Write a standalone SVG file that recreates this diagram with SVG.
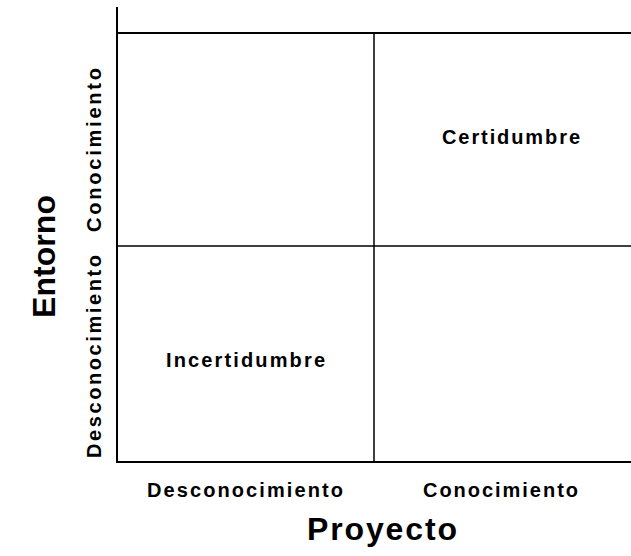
<svg xmlns="http://www.w3.org/2000/svg" width="631" height="556" viewBox="0 0 631 556">
  <style>
    .ax { stroke: #000; stroke-width: 2; fill: none; }
    .grid { stroke: #000; stroke-width: 1.5; fill: none; }
    text { font-family: "Liberation Sans", Arial, sans-serif; font-weight: bold; fill: #000; }
    .lbl { font-size: 20px; }
    .axis-title { font-size: 32px; }
  </style>
  <rect x="0" y="0" width="631" height="556" fill="#fff"/>
  <g id="connectors">
    <line class="ax" x1="117" y1="7" x2="117" y2="463"/>
    <line class="ax" x1="116" y1="462" x2="631" y2="462"/>
    <line class="ax" x1="117" y1="33" x2="631" y2="33"/>
    <line class="grid" x1="117" y1="246" x2="631" y2="246"/>
    <line class="grid" x1="374" y1="33" x2="374" y2="462"/>
  </g>
  <g id="certidumbre"><text class="lbl" x="442" y="144" textLength="138" lengthAdjust="spacing">Certidumbre</text></g>
  <g id="incertidumbre"><text class="lbl" x="166" y="367" textLength="159" lengthAdjust="spacing">Incertidumbre</text></g>
  <g id="x-desconocimiento"><text class="lbl" x="147" y="497" textLength="196" lengthAdjust="spacing">Desconocimiento</text></g>
  <g id="x-conocimiento"><text class="lbl" x="423" y="497" textLength="155" lengthAdjust="spacing">Conocimiento</text></g>
  <g id="x-title"><text class="axis-title" x="307" y="540" textLength="150" lengthAdjust="spacing">Proyecto</text></g>
  <g id="y-conocimiento"><text class="lbl" transform="translate(101,232) rotate(-90)" x="0" y="0" textLength="164" lengthAdjust="spacing">Conocimiento</text></g>
  <g id="y-desconocimiento"><text class="lbl" transform="translate(101,458) rotate(-90)" x="0" y="0" textLength="203" lengthAdjust="spacing">Desconocimiento</text></g>
  <g id="y-title"><text class="axis-title" transform="translate(55,318) rotate(-90)" x="0" y="0" textLength="123" lengthAdjust="spacing">Entorno</text></g>
</svg>
